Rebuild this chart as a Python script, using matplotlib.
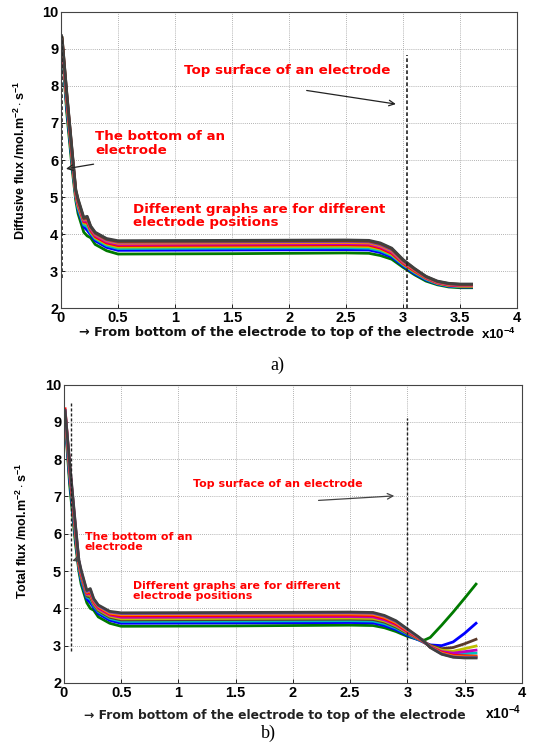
import matplotlib
matplotlib.use("Agg")
import matplotlib.pyplot as plt

plt.rcParams['font.family'] = ['Liberation Sans', 'DejaVu Sans']
plt.rcParams['mathtext.fontset'] = 'custom'
plt.rcParams['mathtext.rm'] = 'Liberation Sans:bold'
plt.rcParams['mathtext.bf'] = 'Liberation Sans:bold'
plt.rcParams['mathtext.it'] = 'Liberation Sans:bold'

# ---------------- data (x in units of 1e-4) ----------------
x_a = [0.01, 0.05, 0.1, 0.13, 0.15, 0.2, 0.23, 0.26, 0.3, 0.4, 0.5, 1.5, 2.5, 2.7, 2.8, 2.9, 3.0, 3.1, 3.2, 3.3, 3.4, 3.5, 3.6]
diff_green   = [9.00, 7.30, 5.70, 4.90, 4.55, 4.05, 3.95, 3.90, 3.72, 3.55, 3.46, 3.47, 3.49, 3.48, 3.42, 3.32, 3.10, 2.90, 2.73, 2.63, 2.57, 2.55, 2.55]
diff_blue    = [9.10, 7.45, 5.85, 5.00, 4.65, 4.20, 4.10, 3.98, 3.82, 3.64, 3.56, 3.57, 3.58, 3.57, 3.50, 3.38, 3.14, 2.93, 2.76, 2.65, 2.59, 2.57, 2.57]
diff_cyan    = [9.10, 7.55, 5.90, 5.02, 4.70, 4.25, 4.20, 4.03, 3.87, 3.69, 3.61, 3.62, 3.63, 3.62, 3.55, 3.42, 3.17, 2.96, 2.78, 2.66, 2.60, 2.58, 2.58]
diff_yellow  = [9.15, 7.60, 5.95, 5.05, 4.75, 4.30, 4.28, 4.07, 3.90, 3.73, 3.65, 3.66, 3.67, 3.66, 3.59, 3.45, 3.19, 2.98, 2.80, 2.67, 2.61, 2.59, 2.59]
diff_red     = [9.20, 7.65, 6.00, 5.08, 4.80, 4.33, 4.32, 4.10, 3.93, 3.76, 3.69, 3.70, 3.71, 3.70, 3.62, 3.48, 3.21, 3.00, 2.81, 2.68, 2.62, 2.60, 2.60]
diff_magenta = [9.20, 7.70, 6.05, 5.10, 4.83, 4.35, 4.36, 4.13, 3.96, 3.79, 3.72, 3.73, 3.74, 3.73, 3.65, 3.51, 3.23, 3.02, 2.82, 2.69, 2.63, 2.61, 2.61]
diff_orange  = [9.25, 7.75, 6.08, 5.12, 4.86, 4.38, 4.40, 4.16, 3.99, 3.82, 3.75, 3.76, 3.77, 3.76, 3.68, 3.54, 3.25, 3.03, 2.83, 2.70, 2.64, 2.62, 2.62]
diff_purple  = [9.25, 7.80, 6.12, 5.15, 4.89, 4.40, 4.43, 4.18, 4.01, 3.84, 3.78, 3.79, 3.80, 3.79, 3.71, 3.57, 3.27, 3.05, 2.84, 2.71, 2.65, 2.63, 2.63]
diff_brown   = [9.30, 7.82, 6.15, 5.18, 4.92, 4.42, 4.45, 4.20, 4.03, 3.86, 3.80, 3.81, 3.82, 3.81, 3.74, 3.60, 3.29, 3.06, 2.85, 2.72, 2.66, 2.64, 2.64]
diff_gray    = [9.30, 7.85, 6.18, 5.20, 4.95, 4.45, 4.48, 4.22, 4.05, 3.88, 3.82, 3.83, 3.84, 3.83, 3.76, 3.62, 3.31, 3.07, 2.86, 2.73, 2.67, 2.65, 2.65]

x_b = [0.01, 0.05, 0.1, 0.13, 0.15, 0.2, 0.23, 0.26, 0.3, 0.4, 0.5, 1.5, 2.5, 2.7, 2.8, 2.9, 3.0, 3.1, 3.15, 3.2, 3.3, 3.4, 3.5, 3.6]
tot_green   = [9.00, 7.30, 5.75, 5.00, 4.65, 4.15, 4.00, 3.95, 3.77, 3.60, 3.52, 3.53, 3.55, 3.54, 3.48, 3.38, 3.25, 3.16, 3.15, 3.22, 3.55, 3.90, 4.27, 4.65]
tot_blue    = [9.10, 7.45, 5.90, 5.08, 4.75, 4.25, 4.15, 4.02, 3.86, 3.68, 3.60, 3.61, 3.62, 3.61, 3.54, 3.43, 3.28, 3.15, 3.08, 3.02, 3.00, 3.10, 3.33, 3.60]
tot_cyan    = [9.15, 7.55, 5.95, 5.10, 4.80, 4.30, 4.25, 4.07, 3.91, 3.73, 3.65, 3.66, 3.67, 3.66, 3.59, 3.47, 3.31, 3.16, 3.08, 3.00, 2.86, 2.78, 2.79, 2.80]
tot_brown   = [9.15, 7.60, 6.00, 5.13, 4.85, 4.33, 4.30, 4.10, 3.94, 3.76, 3.69, 3.70, 3.71, 3.70, 3.63, 3.50, 3.33, 3.17, 3.09, 3.01, 2.92, 2.95, 3.05, 3.17]
tot_yellow  = [9.20, 7.65, 6.05, 5.16, 4.88, 4.36, 4.35, 4.13, 3.97, 3.79, 3.72, 3.73, 3.74, 3.73, 3.66, 3.53, 3.35, 3.18, 3.09, 2.99, 2.88, 2.85, 2.92, 2.99]
tot_magenta = [9.25, 7.70, 6.10, 5.19, 4.91, 4.38, 4.40, 4.16, 4.00, 3.82, 3.76, 3.77, 3.78, 3.77, 3.69, 3.56, 3.37, 3.19, 3.09, 2.98, 2.84, 2.80, 2.84, 2.88]
tot_red     = [9.35, 7.80, 6.15, 5.22, 4.94, 4.41, 4.44, 4.19, 4.03, 3.85, 3.80, 3.81, 3.82, 3.81, 3.73, 3.59, 3.39, 3.20, 3.09, 2.97, 2.82, 2.74, 2.73, 2.72]
tot_orange  = [9.25, 7.82, 6.18, 5.25, 4.97, 4.43, 4.47, 4.21, 4.05, 3.87, 3.83, 3.84, 3.85, 3.84, 3.76, 3.62, 3.41, 3.21, 3.10, 2.96, 2.80, 2.72, 2.70, 2.70]
tot_purple  = [9.30, 7.86, 6.22, 5.28, 5.00, 4.45, 4.50, 4.24, 4.07, 3.90, 3.86, 3.87, 3.88, 3.87, 3.79, 3.65, 3.43, 3.22, 3.10, 2.96, 2.78, 2.70, 2.68, 2.68]
tot_gray    = [9.30, 7.90, 6.25, 5.30, 5.03, 4.48, 4.53, 4.26, 4.09, 3.92, 3.88, 3.89, 3.90, 3.89, 3.81, 3.67, 3.45, 3.23, 3.10, 2.95, 2.77, 2.69, 2.67, 2.67]

colors_a = ['#007a00', '#0000ff', '#00bfbf', '#bfbf00', '#ff0000', '#bf00bf', '#ff8000', '#8040c0', '#7f3f00', '#404040']
series_a = [diff_green, diff_blue, diff_cyan, diff_yellow, diff_red, diff_magenta, diff_orange, diff_purple, diff_brown, diff_gray]
colors_b = ['#007a00', '#0000ff', '#00bfbf', '#5a3a2a', '#bfbf00', '#bf00bf', '#ff0000', '#ff8000', '#8040c0', '#404040']
series_b = [tot_green, tot_blue, tot_cyan, tot_brown, tot_yellow, tot_magenta, tot_red, tot_orange, tot_purple, tot_gray]

xticks = [0, 0.5, 1, 1.5, 2, 2.5, 3, 3.5, 4]
xticklabels = ['0', '0.5', '1', '1.5', '2', '2.5', '3', '3.5', '4']
yticks = [2, 3, 4, 5, 6, 7, 8, 9, 10]

fig = plt.figure(figsize=(5.33, 7.46), dpi=100)
ax1 = fig.add_axes([0.1144, 0.587, 0.856, 0.397])
ax2 = fig.add_axes([0.120, 0.0845, 0.859, 0.400])

def style(ax):
    ax.set_xlim(0, 4)
    ax.set_ylim(2, 10)
    ax.set_xticks(xticks)
    ax.set_xticklabels(xticklabels)
    ax.set_yticks(yticks)
    ax.grid(True, linestyle=(0, (1, 1.5)), color='#9a9a9a', linewidth=0.6)
    ax.tick_params(direction='in', length=3, width=0.6, labelsize=10.5, pad=2)
    for lab in ax.get_xticklabels() + ax.get_yticklabels():
        lab.set_fontweight('bold')
    for s in ax.spines.values():
        s.set_color('#444444')
        s.set_linewidth(0.8)

for ys, c in zip(series_a, colors_a):
    ax1.plot(x_a, ys, color=c, lw=2.0)
for ys, c in zip(series_b, colors_b):
    ax2.plot(x_b, ys, color=c, lw=2.0)

style(ax1)
style(ax2)

dash = (0, (2.2, 1.4))
ax1.plot([0.01, 0.01], [2.8, 9.45], color='#222222', lw=1.2, linestyle=dash)
ax1.plot([3.03, 3.03], [2.0, 8.85], color='#222222', lw=1.2, linestyle=dash)
ax2.plot([0.06, 0.06], [2.85, 9.5], color='#222222', lw=1.0, linestyle=dash)
ax2.plot([3.0, 3.0], [2.35, 9.1], color='#222222', lw=1.0, linestyle=dash)

red_a = dict(color='#ff0000', fontweight='bold', fontsize=9.6, family='DejaVu Sans')
ax1.text(1.08, 8.43, 'Top surface of an electrode', va='center', ha='left', **red_a)
ax1.annotate('', xy=(2.96, 7.5), xytext=(2.13, 7.89),
             arrowprops=dict(arrowstyle='->', color='#222222', lw=0.9))
ax1.text(0.3, 6.45, 'The bottom of an\nelectrode', va='center', ha='left', linespacing=1.05, **red_a)
ax1.annotate('', xy=(0.02, 5.75), xytext=(0.31, 5.9),
             arrowprops=dict(arrowstyle='->', color='#222222', lw=0.9))
ax1.text(0.63, 4.49, 'Different graphs are for different\nelectrode positions', va='center', ha='left', linespacing=1.05, **red_a)

red_b = dict(color='#ff0000', fontweight='bold', fontsize=7.9, family='DejaVu Sans')
ax2.text(1.13, 7.34, 'Top surface of an electrode', va='center', ha='left', **red_b)
ax2.annotate('', xy=(2.91, 7.02), xytext=(2.2, 6.89),
             arrowprops=dict(arrowstyle='->', color='#444444', lw=0.9))
ax2.text(0.18, 5.78, 'The bottom of an\nelectrode', va='center', ha='left', linespacing=1.05, **red_b)
ax2.annotate('', xy=(0.05, 5.25), xytext=(0.16, 5.36),
             arrowprops=dict(arrowstyle='->', color='#444444', lw=0.9))
ax2.text(0.6, 4.47, 'Different graphs are for different\nelectrode positions', va='center', ha='left', linespacing=1.05, **red_b)

ax1.set_ylabel(r'Diffusive flux /mol.m$^{-2}\cdot$s$^{-1}$', fontsize=9, fontweight='bold')
ax1.yaxis.set_label_coords(-0.072, 0.5)
ax2.set_ylabel(r'Total flux /mol.m$^{-2}\cdot$s$^{-1}$', fontsize=9, fontweight='bold')
ax2.yaxis.set_label_coords(-0.074, 0.51)

fig.text(277 / 533, 1 - 332 / 746, '\u2192 From bottom of the electrode to top of the electrode',
         ha='center', va='center', fontsize=9.2, fontweight='bold', color='#111111', family='DejaVu Sans')
fig.text(481 / 533, 1 - 334 / 746, r'x10$^{-4}$', ha='left', va='center', fontsize=9.5, fontweight='bold')
fig.text(275 / 533, 1 - 715 / 746, '\u2192 From bottom of the electrode to top of the electrode',
         ha='center', va='center', fontsize=8.9, fontweight='bold', color='#222222', family='DejaVu Sans')
fig.text(485 / 533, 1 - 713 / 746, r'x10$^{-4}$', ha='left', va='center', fontsize=10, fontweight='bold')

fig.text(277 / 533, 1 - 365 / 746, 'a)', ha='center', va='center', fontsize=13, family='Liberation Serif')
fig.text(268 / 533, 1 - 733 / 746, 'b)', ha='center', va='center', fontsize=13, family='Liberation Serif')

fig.savefig('out.png', dpi=100)
